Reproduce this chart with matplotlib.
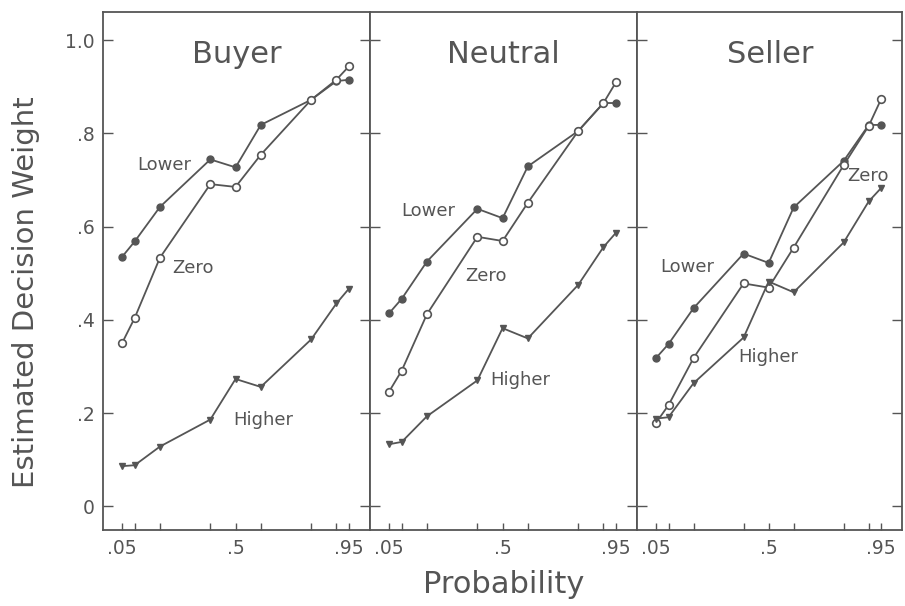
import numpy as np
import matplotlib
matplotlib.use("Agg")
import matplotlib.pyplot as plt

# probabilities used in the experiment
prob = [0.05, 0.10, 0.20, 0.40, 0.50, 0.60, 0.80, 0.90, 0.95]

panels = ["Buyer", "Neutral", "Seller"]

lower = {
    "Buyer":   [0.535, 0.568, 0.642, 0.744, 0.727, 0.818, 0.872, 0.912, 0.915],
    "Neutral": [0.414, 0.445, 0.525, 0.638, 0.618, 0.729, 0.805, 0.865, 0.865],
    "Seller":  [0.318, 0.348, 0.425, 0.542, 0.522, 0.641, 0.741, 0.818, 0.818],
}
zero = {
    "Buyer":   [0.350, 0.404, 0.533, 0.691, 0.685, 0.754, 0.872, 0.915, 0.944],
    "Neutral": [0.246, 0.291, 0.412, 0.578, 0.569, 0.651, 0.805, 0.865, 0.910],
    "Seller":  [0.179, 0.217, 0.318, 0.478, 0.469, 0.555, 0.732, 0.816, 0.874],
}
higher = {
    "Buyer":   [0.086, 0.088, 0.128, 0.186, 0.273, 0.256, 0.358, 0.435, 0.467],
    "Neutral": [0.133, 0.138, 0.193, 0.270, 0.382, 0.360, 0.475, 0.556, 0.587],
    "Seller":  [0.188, 0.191, 0.264, 0.362, 0.482, 0.459, 0.566, 0.654, 0.683],
}

yticks = [0, 0.2, 0.4, 0.6, 0.8, 1.0]
ytick_labels = ["0", ".2", ".4", ".6", ".8", "1.0"]
xtick_labels = {0.05: ".05", 0.5: ".5", 0.95: ".95"}

# label placement (x, y in data units) for each curve name
label_pos = {
    "Buyer":   {"Lower": (0.11, 0.732), "Zero": (0.25, 0.511), "Higher": (0.49, 0.185)},
    "Neutral": {"Lower": (0.10, 0.633), "Zero": (0.35, 0.494), "Higher": (0.45, 0.270)},
    "Seller":  {"Lower": (0.066, 0.513), "Zero": (0.815, 0.708), "Higher": (0.38, 0.320)},
}

ink = "#555555"
plt.rcParams["font.family"] = "DejaVu Sans"

fig = plt.figure(figsize=(9.05, 6.06), dpi=100)
gs = fig.add_gridspec(1, 3, left=0.114, right=0.997, top=0.980, bottom=0.125,
                      wspace=0, width_ratios=[267, 267, 265])

for i, name in enumerate(panels):
    ax = fig.add_subplot(gs[0, i])
    ax.plot(prob, lower[name], color=ink, lw=1.3, marker="o", ms=5,
            mfc=ink, mec=ink)
    ax.plot(prob, zero[name], color=ink, lw=1.3, marker="o", ms=5.5,
            mfc="white", mec=ink, mew=1.2)
    ax.plot(prob, higher[name], color=ink, lw=1.3, marker="v", ms=5,
            mfc=ink, mec=ink)

    for lab, (lx, ly) in label_pos[name].items():
        ax.text(lx, ly, lab, fontsize=13, color=ink, va="center", ha="left")

    ax.text(0.5, 0.918, name, transform=ax.transAxes, ha="center",
            va="center", fontsize=22, color=ink)

    ax.set_xlim(-0.025, 1.034)
    ax.set_ylim(-0.0515, 1.06)

    ax.set_xticks(prob)
    ax.set_xticklabels([xtick_labels.get(p, "") for p in prob])
    ax.set_yticks(yticks)
    if i == 0:
        ax.set_yticklabels(ytick_labels)
        ax.set_ylabel("Estimated Decision Weight", fontsize=21, color=ink)
        ax.yaxis.set_label_coords(-0.235, 0.46)
    else:
        ax.set_yticklabels([])
    if i == 1:
        ax.set_xlabel("Probability", fontsize=22, color=ink, labelpad=9)

    ax.tick_params(axis="x", direction="in", length=5, width=1, color=ink,
                   labelsize=13.5, labelcolor=ink, pad=6)
    ax.tick_params(axis="y", direction="in", length=7, width=1, color=ink,
                   labelsize=13.5, labelcolor=ink, right=True, pad=6)
    for sp in ax.spines.values():
        sp.set_color(ink)
        sp.set_linewidth(1.3)

fig.savefig("out.png", dpi=100)
